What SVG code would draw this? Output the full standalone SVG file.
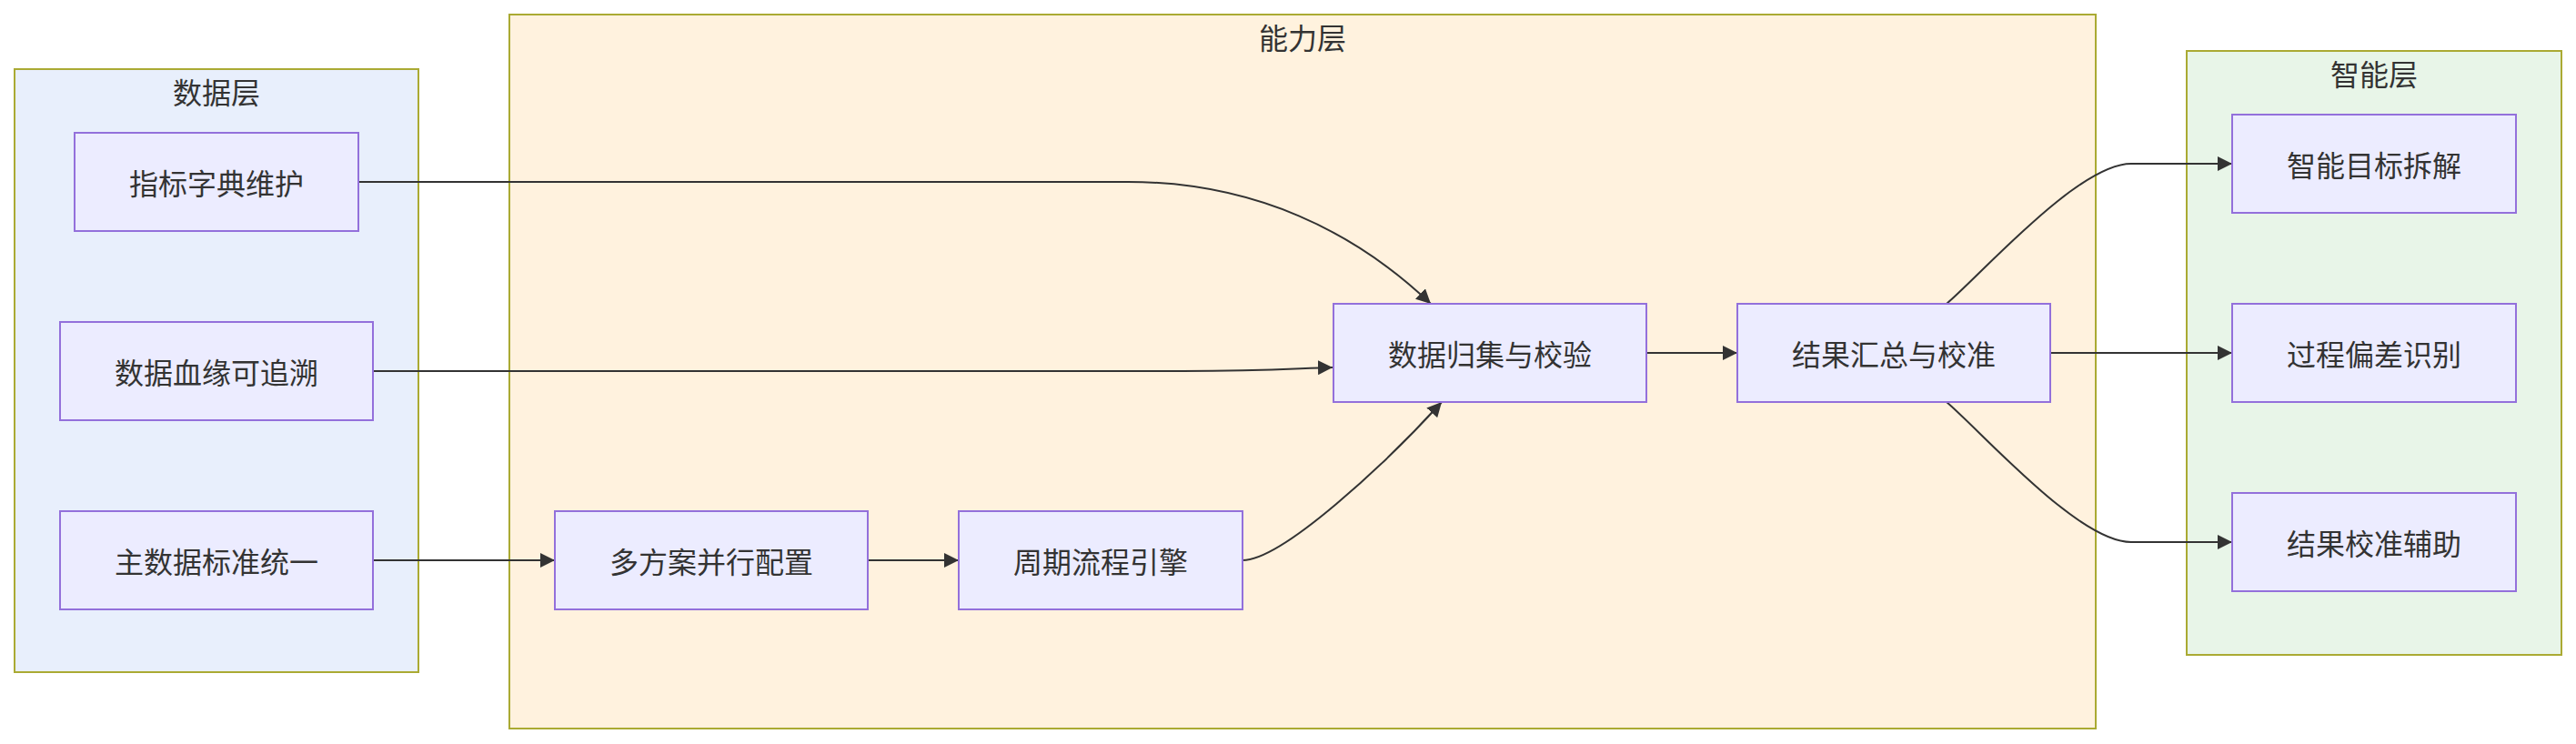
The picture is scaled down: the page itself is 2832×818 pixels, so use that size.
<svg xmlns="http://www.w3.org/2000/svg" width="2832" height="818" viewBox="0 0 2832 818">
<defs>
<style>
.cluster{stroke:#aaaa33;stroke-width:2}
.node rect{fill:#ececff;stroke:#9370db;stroke-width:2}
text{font-family:"Noto Sans CJK SC","Noto Sans",sans-serif;font-size:32px;fill:#333;text-anchor:middle;dominant-baseline:central}
.edge{fill:none;stroke:#333;stroke-width:2;marker-end:url(#arrow)}
</style>
<marker id="arrow" viewBox="0 0 10 10" refX="10" refY="5" markerUnits="userSpaceOnUse" markerWidth="16" markerHeight="16" orient="auto">
<path d="M0,0 L10,5 L0,10 z" fill="#333"/>
</marker>
</defs>
<rect width="2832" height="818" fill="#ffffff"/>
<g id="cluster-data">
<rect class="cluster" x="16" y="76" width="444" height="663" fill="#e8effc"/>
<text x="238" y="100">数据层</text>
</g>
<g id="cluster-capability">
<rect class="cluster" x="560" y="16" width="1744" height="785" fill="#fff2de"/>
<text x="1432" y="40">能力层</text>
</g>
<g id="cluster-smart">
<rect class="cluster" x="2404" y="56" width="412" height="664" fill="#e8f5e8"/>
<text x="2610" y="80">智能层</text>
</g>
<g id="connectors">
<path class="edge" d="M394,200 L1240,200 C1380,200 1490,255 1573,334"/>
<path class="edge" d="M410,408 L1300,408 C1400,408 1430,404.5 1465,404"/>
<path class="edge" d="M410,616 L610,616"/>
<path class="edge" d="M954,616 L1054,616"/>
<path class="edge" d="M1366,616 C1410,616 1525,508 1585,442"/>
<path class="edge" d="M1810,388 L1910,388"/>
<path class="edge" d="M2140,334 C2180,300 2285,180 2343,180 L2454,180"/>
<path class="edge" d="M2254,388 L2454,388"/>
<path class="edge" d="M2140,442 C2180,476 2285,596 2343,596 L2454,596"/>
</g>
<g id="n1" class="node"><rect x="82" y="146" width="312" height="108"/><text x="238" y="200">指标字典维护</text></g>
<g id="n2" class="node"><rect x="66" y="354" width="344" height="108"/><text x="238" y="408">数据血缘可追溯</text></g>
<g id="n3" class="node"><rect x="66" y="562" width="344" height="108"/><text x="238" y="616">主数据标准统一</text></g>
<g id="n4" class="node"><rect x="610" y="562" width="344" height="108"/><text x="782" y="616">多方案并行配置</text></g>
<g id="n5" class="node"><rect x="1054" y="562" width="312" height="108"/><text x="1210" y="616">周期流程引擎</text></g>
<g id="n6" class="node"><rect x="1466" y="334" width="344" height="108"/><text x="1638" y="388">数据归集与校验</text></g>
<g id="n7" class="node"><rect x="1910" y="334" width="344" height="108"/><text x="2082" y="388">结果汇总与校准</text></g>
<g id="n8" class="node"><rect x="2454" y="126" width="312" height="108"/><text x="2610" y="180">智能目标拆解</text></g>
<g id="n9" class="node"><rect x="2454" y="334" width="312" height="108"/><text x="2610" y="388">过程偏差识别</text></g>
<g id="n10" class="node"><rect x="2454" y="542" width="312" height="108"/><text x="2610" y="596">结果校准辅助</text></g>
</svg>
